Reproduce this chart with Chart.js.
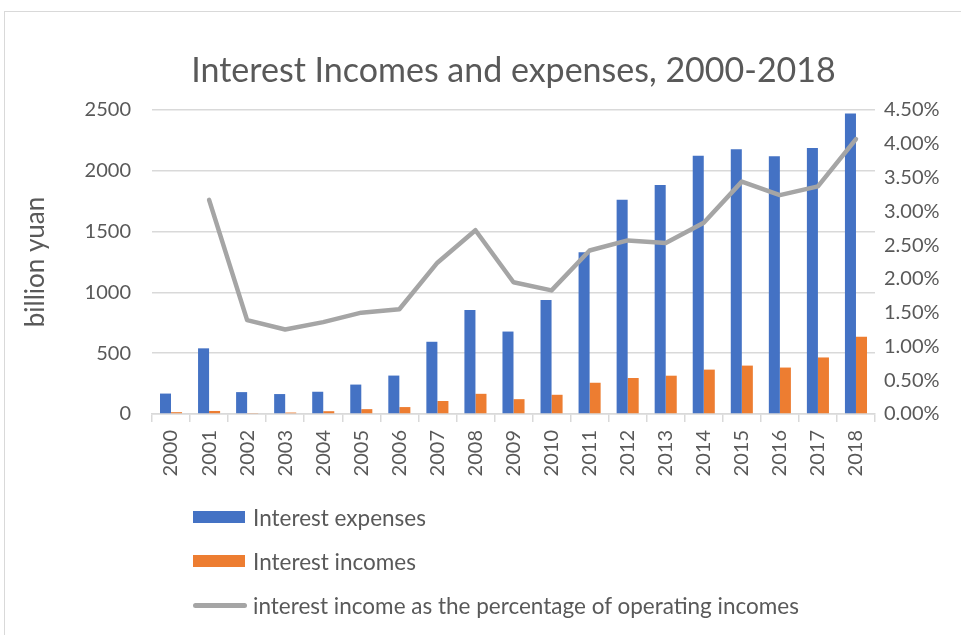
<!DOCTYPE html>
<html>
<head>
<meta charset="utf-8">
<script src="https://cdn.jsdelivr.net/npm/chart.js@4.4.1/dist/chart.umd.min.js"></script>
<style>
  html, body { margin: 0; padding: 0; background: #ffffff; overflow: hidden; }
  #wrap { position: relative; width: 961px; height: 635px; }
  #frame { position: absolute; left: 4px; top: 11px; width: 970px; height: 640px; border: 1px solid #d9d9d9; box-sizing: border-box; }
  canvas { position: absolute; left: 0; top: 0; }
  .lg { position: absolute; left: 193px; height: 24px; display: flex; align-items: center; font-family: Lato, "Open Sans", sans-serif; font-size: 22.5px; color: #595959; white-space: nowrap; }
  .sw { width: 52px; height: 12px; margin-right: 8px; }
  .ln { width: 54px; height: 5px; border-radius: 3px; margin-right: 6px; }
</style>
</head>
<body>
<div id="wrap">
  <div id="frame"></div>
  <canvas id="c" width="961" height="635"></canvas>
  <div class="lg" style="top:505px"><div class="sw" style="background:#4472c4"></div><span id="l0"></span></div>
  <div class="lg" style="top:549px"><div class="sw" style="background:#ed7d31"></div><span id="l1"></span></div>
  <div class="lg" style="top:593px"><div class="ln" style="background:#a5a5a5"></div><span id="l2"></span></div>
</div>
<script>
const years = ["2000","2001","2002","2003","2004","2005","2006","2007","2008","2009","2010","2011","2012","2013","2014","2015","2016","2017","2018"];
const interestExpenses = [168, 540, 180, 164, 183, 242, 316, 594, 856, 678, 937, 1330, 1762, 1883, 2124, 2178, 2119, 2188, 2472];
const interestIncomes = [15, 25, 8, 12, 23, 40, 57, 107, 166, 122, 158, 257, 296, 315, 365, 398, 382, 465, 636];
const incomeShare = [null, 3.17, 1.39, 1.25, 1.36, 1.50, 1.55, 2.24, 2.72, 1.95, 1.83, 2.42, 2.57, 2.53, 2.83, 3.44, 3.24, 3.37, 4.07];
const leftTicks = [0, 500, 1000, 1500, 2000, 2500];
const rightTicks = [0, 0.5, 1, 1.5, 2, 2.5, 3, 3.5, 4, 4.5];
const seriesNames = ["Interest expenses", "Interest incomes", "interest income as the percentage of operating incomes"];
const titleText = "Interest Incomes and expenses, 2000-2018";
const yTitle = "billion yuan";

document.getElementById('l0').textContent = seriesNames[0];
document.getElementById('l1').textContent = seriesNames[1];
document.getElementById('l2').textContent = seriesNames[2];

const FONT = 'Lato, "Open Sans", sans-serif';
const TXT = '#595959';
const GRID = '#d9d9d9';

new Chart(document.getElementById('c'), {
  data: {
    labels: years,
    datasets: [
      { type: 'line', label: seriesNames[2], data: incomeShare, yAxisID: 'y1', borderColor: '#a5a5a5', backgroundColor: '#a5a5a5', borderWidth: 4.5, pointRadius: 0, tension: 0, borderCapStyle: 'round', borderJoinStyle: 'round', order: 0 },
      { type: 'bar', label: seriesNames[0], data: interestExpenses, yAxisID: 'y', backgroundColor: '#4472c4', barPercentage: 1, categoryPercentage: 0.58, order: 1 },
      { type: 'bar', label: seriesNames[1], data: interestIncomes, yAxisID: 'y', backgroundColor: '#ed7d31', barPercentage: 1, categoryPercentage: 0.58, order: 1 }
    ]
  },
  options: {
    responsive: false,
    animation: false,
    devicePixelRatio: 1,
    layout: { padding: { left: 20, right: 0, top: 0, bottom: 141 } },
    plugins: {
      legend: { display: false },
      tooltip: { enabled: false },
      title: { display: true, fullSize: false, text: titleText, color: TXT, font: { family: FONT, size: 34, weight: 'normal' }, padding: { top: 51, bottom: 18.2 } }
    },
    scales: {
      x: {
        grid: { display: true, drawOnChartArea: false, drawTicks: true, tickLength: 8, offset: true, color: GRID, lineWidth: 1.5 },
        border: { display: true, color: GRID, width: 1.5 },
        ticks: { color: TXT, font: { family: FONT, size: 20 }, maxRotation: 90, minRotation: 90, autoSkip: false, padding: 8 },
        afterFit: (s) => { s.height = 80; }
      },
      y: {
        position: 'left',
        min: 0, max: 2500,
        afterBuildTicks: (s) => { s.ticks = leftTicks.map(v => ({ value: v })); },
        grid: { color: GRID, lineWidth: 1.5, drawTicks: false },
        border: { display: false },
        ticks: { color: TXT, font: { family: FONT, size: 20 }, padding: 21, callback: (v) => String(v) },
        title: { display: true, text: yTitle, color: TXT, font: { family: FONT, size: 26 }, padding: 0 },
        afterFit: (s) => { s.width = 132; }
      },
      y1: {
        position: 'right',
        min: 0, max: 4.5,
        afterBuildTicks: (s) => { s.ticks = rightTicks.map(v => ({ value: v })); },
        grid: { drawOnChartArea: false, drawTicks: false },
        border: { display: false },
        ticks: { color: TXT, font: { family: FONT, size: 20 }, padding: 9, callback: (v) => Number(v).toFixed(2) + '%' },
        afterFit: (s) => { s.width = 86; }
      }
    }
  }
});
</script>
</body>
</html>
